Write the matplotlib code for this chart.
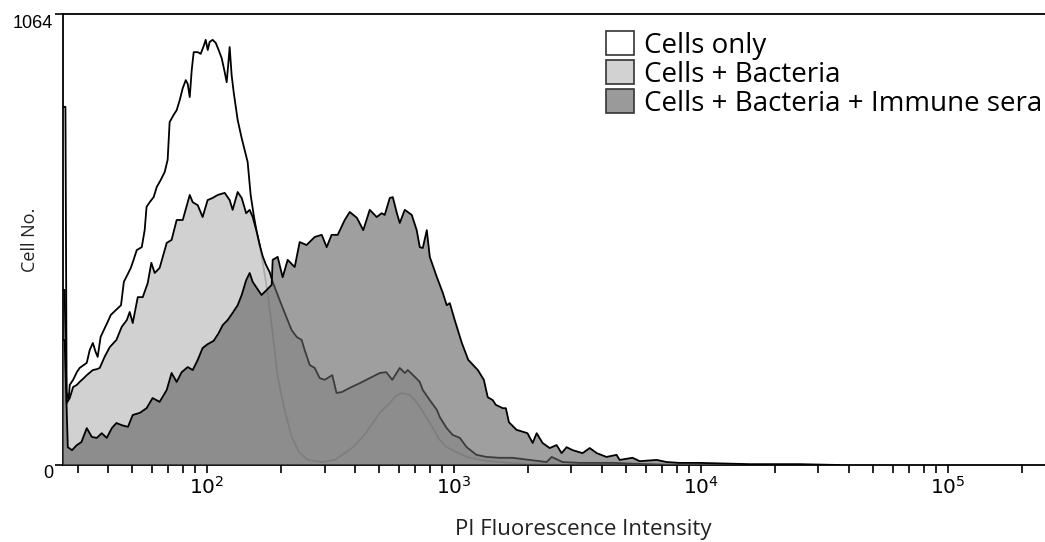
import numpy as np
import matplotlib
matplotlib.use("Agg")
import matplotlib.pyplot as plt
import matplotlib.transforms as mtransforms
from matplotlib.patches import Patch
from matplotlib.ticker import LogLocator, NullFormatter

plt.rcParams['mathtext.fontset'] = 'custom'
plt.rcParams['mathtext.rm'] = 'Liberation Sans'

# PI fluorescence (x) and cell counts (y)
cells_x = [26.2, 26.5, 26.8, 27.1, 27.6, 27.9, 28.8, 29.8, 30.6, 31.8, 32.7, 33.6, 34.6, 35.5, 36.2,
           37.2, 38.3, 39.7, 40.9, 42.1, 43.7, 45.0, 46.2, 47.5, 49.3, 50.6, 52.1, 54.6, 56.1,
           57.1, 58.8, 61.0, 62.8, 65.1, 67.6, 69.5, 70.8, 73.5, 75.6, 77.8, 80.0, 82.3, 83.8,
           85.4, 87.0, 88.6, 92.0, 94.6, 97.2, 99.1, 101.0, 102.8, 105.7, 108.8, 111.8, 115.0,
           118.3, 120.5, 122.7, 123.9, 126.2, 128.6, 133.5, 138.6, 142.5, 146.5, 150.7, 155.0,
           159.4, 163.9, 168.5, 173.3, 176.5, 185.0, 193.8, 206.9, 220.9, 238.0, 256.5, 292.3,
           329.9, 362.2, 387.0, 416.6, 440.6, 470.6, 502.1, 551.2, 583.0, 617.0, 664.2, 695.9,
           729.2, 800.5, 878.8, 937.0, 991.0, 1129, 1274, 1535, 2029, 2941]
cells_y = [845, 845, 845, 172, 153, 189, 201, 219, 229, 236, 241, 271, 288, 267, 255,
           302, 318, 337, 354, 361, 370, 377, 432, 446, 465, 484, 507, 514, 554,
           609, 620, 632, 656, 672, 691, 720, 809, 826, 837, 861, 889, 908, 899,
           868, 932, 974, 974, 970, 988, 1003, 979, 998, 1003, 996, 979, 960,
           927, 903, 955, 986, 920, 880, 814, 771, 743, 715, 637, 590,
           550, 519, 479, 436, 406, 311, 208, 130, 66, 28, 12, 7,
           12, 28, 40, 59, 75, 99, 123, 146, 163, 170, 165, 153,
           137, 99, 59, 42, 35, 19, 12, 7, 2, 0]

bact_x = [26.2, 26.6, 27.1, 27.9, 28.8, 29.8, 30.6, 31.8, 32.7, 34.6, 35.9, 36.9, 38.6, 40.5,
          43.1, 45.3, 47.5, 48.8, 50.2, 52.6, 55.1, 57.7, 59.7, 61.6, 64.5, 68.9, 72.1, 75.6,
          80.0, 85.4, 87.8, 92.0, 96.3, 100.9, 105.7, 110.8, 118.3, 123.9, 127.4, 133.5, 138.6,
          144.5, 149.3, 153.6, 159.4, 163.9, 168.5, 173.3, 179.9, 185.0, 197.5, 206.9, 220.9,
          231.6, 242.5, 249.4, 261.3, 273.8, 286.8, 300.5, 322.5, 335.5, 352.2, 379.5, 416.6,
          457.3, 502.1, 533.4, 564.2, 605.1, 634.0, 652.4, 695.9, 729.2, 749.8, 800.5, 855.3,
          878.8, 937.0, 991.0, 1059, 1129, 1236, 1358, 1535, 1731, 2029, 2380, 2494, 2761,
          3236, 4406, 6041, 8170]
bact_y = [413, 413, 146, 158, 184, 189, 196, 205, 212, 224, 226, 229, 255, 278,
          295, 326, 342, 361, 335, 396, 396, 429, 477, 453, 465, 524, 531, 578,
          578, 637, 620, 613, 585, 625, 630, 637, 642, 625, 602, 644, 630,
          594, 602, 585, 550, 519, 493, 474, 455, 432, 389, 359, 318,
          302, 295, 271, 236, 229, 205, 201, 212, 170, 172, 182, 193,
          205, 217, 219, 201, 229, 217, 224, 208, 196, 177, 153, 130,
          113, 87, 71, 64, 42, 24, 19, 17, 17, 12, 7, 19, 7,
          5, 5, 2, 0]

sera_x = [26.2, 26.6, 27.4, 28.5, 29.8, 31.1, 32.7, 34.3, 35.9, 37.6, 39.4, 41.3, 43.1, 45.3,
          48.0, 50.2, 53.6, 57.1, 60.4, 64.5, 68.9, 72.1, 75.6, 79.2, 83.8, 87.8, 92.0, 96.3,
          100.9, 106.7, 111.8, 116.1, 121.6, 127.4, 133.5, 138.6, 144.5, 149.3, 153.6, 159.4,
          166.8, 175.0, 183.3, 185.0, 193.8, 203.1, 212.8, 227.2, 238.0, 253.8, 273.8, 292.3,
          306.1, 320.5, 339.3, 362.2, 379.5, 405.9, 430.5, 457.3, 488.1, 511.0, 526.0, 551.2,
          567.0, 589.0, 605.1, 634.0, 676.7, 708.5, 729.2, 749.8, 778.6, 800.5, 855.3, 904.0,
          937.0, 964.7, 1010, 1079, 1146, 1253, 1325, 1374, 1440, 1481, 1582, 1627, 1674,
          1797, 1918, 1990, 2089, 2168, 2291, 2448, 2611, 2735, 2866, 3033, 3327, 3556,
          3796, 4159, 4566, 4699, 5303, 5666, 6637, 7281, 8170, 9838, 15780, 25160, 36500]
sera_y = [295, 295, 42, 35, 47, 54, 87, 66, 64, 75, 64, 87, 99, 94,
          90, 118, 123, 134, 158, 149, 177, 217, 196, 219, 231, 224, 248, 276,
          285, 293, 311, 330, 342, 359, 377, 401, 436, 453, 432, 418,
          401, 413, 425, 484, 491, 443, 484, 467, 526, 519, 538, 543,
          514, 543, 543, 578, 597, 583, 554, 602, 585, 594, 590, 630,
          632, 594, 571, 602, 590, 554, 514, 512, 554, 491, 443, 406,
          377, 382, 342, 288, 248, 224, 201, 160, 153, 142, 134, 134, 101,
          83, 78, 75, 52, 75, 52, 40, 47, 28, 42, 35, 28, 40,
          28, 19, 24, 12, 17, 9, 12, 7, 5, 5, 2, 2, 0]

series_labels = ['Cells only', 'Cells + Bacteria', 'Cells + Bacteria + Immune sera']
y_max = 1064

fig = plt.figure(figsize=(10.45, 5.42), dpi=100)
ax = fig.add_axes([63 / 1045, 77 / 542, 988 / 1045, 451 / 542])

# cells only: white, bottom layer
ax.fill_between(cells_x, 0, cells_y, facecolor='white', lw=0, zorder=1)
ax.plot(cells_x, cells_y, color='black', lw=1.3, zorder=1.1)
# cells + bacteria: light grey, slightly see-through
ax.fill_between(bact_x, 0, bact_y, facecolor='0.79', alpha=0.85, lw=0, zorder=2)
ax.plot(bact_x, bact_y, color='black', lw=1.3, zorder=2.1)
# immune sera on top, see-through
ax.fill_between(sera_x, 0, sera_y, facecolor='0.39', alpha=0.61, lw=0, zorder=3)
ax.plot(sera_x, sera_y, color='black', lw=1.3, zorder=3.1)

ax.set_xscale('log')
ax.set_xlim(26.2, 262144)
ax.set_ylim(0, y_max)

ax.xaxis.set_major_locator(LogLocator(base=10))
ax.xaxis.set_minor_locator(LogLocator(base=10, subs=np.arange(2, 10)))
ax.xaxis.set_minor_formatter(NullFormatter())
ax.tick_params(axis='x', which='both', direction='out', length=6, width=1.2, pad=2,
               labelsize=14.5, colors='black')
ax.set_yticks([0, y_max])
ax.set_yticklabels(['0', str(y_max)], fontfamily='Liberation Sans')
ax.tick_params(axis='y', direction='out', length=6, width=1.2, pad=1, labelsize=13)
offset = mtransforms.ScaledTranslation(0, -7 / 100, fig.dpi_scale_trans)
for lab in ax.get_yticklabels():
    lab.set_transform(lab.get_transform() + offset)

for side in ['left', 'bottom', 'top']:
    ax.spines[side].set_linewidth(1.3)
ax.spines['right'].set_visible(False)

fig.text(583 / 1045, 1 - 530 / 542, 'PI Fluorescence Intensity', family='Open Sans',
         fontsize=16, color='#222222', ha='center', va='center')
fig.text(30 / 1045, 1 - 240 / 542, 'Cell No.', family='Open Sans', fontsize=13,
         color='#222222', ha='center', va='center', rotation=90)

handles = [Patch(facecolor=c, edgecolor='#333333', lw=1.2)
           for c in ['white', '#d2d2d2', '#9a9a9a']]
fig.legend(handles, series_labels, loc='upper left',
           bbox_to_anchor=(606 / 1045, 1 - 31 / 542), frameon=False,
           prop={'family': 'Open Sans', 'size': 20}, handlelength=1.0, handleheight=0.95,
           handletextpad=0.36, labelspacing=0.02, borderpad=0, borderaxespad=0)

fig.savefig('out.png', dpi=100)
